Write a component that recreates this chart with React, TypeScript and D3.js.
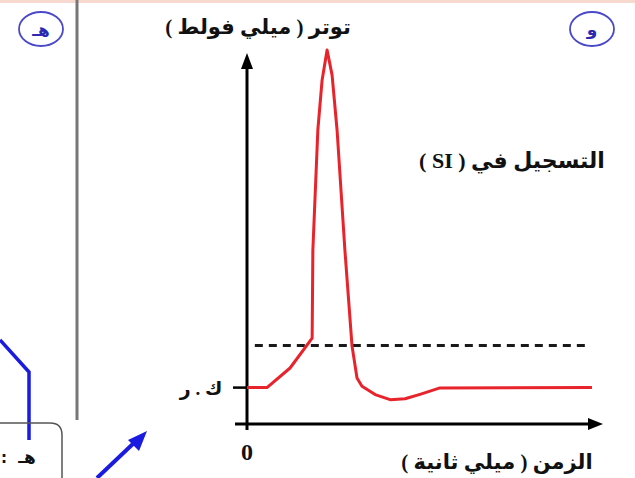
import React from "react";
import * as d3 from "d3";

// ---- data ----
const timeMs: number[] = [0, 0.56, 1.21, 1.83, 1.85, 1.99, 2.11, 2.25, 2.39, 2.53, 2.75, 2.95, 3.09, 3.23, 3.6, 4.02, 4.44, 4.86, 5.42, 9.69];
const voltageMv: number[] = [-70, -70, -63, -52.3, -20.9, 22, 39.9, 50.6, 41.6, 22, -20.9, -55.1, -66.6, -69.5, -72.5, -74.3, -74, -72.4, -70.1, -70];
const restValue = -70;
const thresholdValue = -55;
const thresholdSpan: number[] = [0.22, 9.58];
const xTickLabels: string[] = ["0"];
const yAxisTitle = "توتر ( ميلي فولط )";
const xAxisTitle = "الزمن ( ميلي ثانية )";
const restLabel = "ك . ر";
const recordLabel = "التسجيل في ( SI )";
const panelLabels: string[] = ["هـ", "و"];

const W = 635;
const H = 478;

export default function App() {
  const x = d3.scaleLinear().domain([0, 10]).range([247, 603]);
  const y = d3.scaleLinear().domain([-83, 52]).range([424, 46]);

  const line = d3
    .line<number>()
    .x((_, i) => x(timeMs[i]))
    .y((v) => y(v))
    .curve(d3.curveLinear);

  const arabicFont = "'Liberation Serif', 'DejaVu Sans', sans-serif";
  const ax0 = x(0);
  const ay0 = y(-83);

  return (
    <svg
      width={W}
      height={H}
      viewBox={`0 0 ${W} ${H}`}
      style={{ position: "absolute", left: 0, top: 0, background: "#fff" }}
    >
      <rect x={0} y={0} width={W} height={H} fill="#fff" />
      <rect x={0} y={0} width={W} height={3} fill="#f7d9cf" />

      {/* left panel remnants */}
      <line x1={77} y1={0} x2={77} y2={420} stroke="#777" strokeWidth={3} />
      <ellipse cx={41} cy={29} rx={22} ry={17} fill="none" stroke="#4a4ac8" strokeWidth={1.8} />
      <text x={41} y={36} textAnchor="middle" fontFamily="'DejaVu Sans', sans-serif" fontWeight="bold" fontSize={17} fill="#2a2ab0">
        {panelLabels[0]}
      </text>
      <polyline points="0,340 29,372 29,440" fill="none" stroke="#1a1ae0" strokeWidth={3.5} />
      <path d="M -10 478 L -10 435 Q -10 423 2 423 L 50 423 Q 62 423 62 435 L 62 490" fill="none" stroke="#555" strokeWidth={1.5} />
      <text x={27} y={463} textAnchor="middle" fontFamily="'DejaVu Sans', sans-serif" fontWeight="bold" fontSize={17} fill="#111">
        {panelLabels[0]}
      </text>
      <text x={4} y={463} textAnchor="middle" fontFamily="'DejaVu Sans', sans-serif" fontWeight="bold" fontSize={15} fill="#111">
        :
      </text>
      <line x1={97} y1={478} x2={136} y2={441} stroke="#1a1ae0" strokeWidth={4} />
      <polygon points="147,431 128,440 139,451" fill="#1a1ae0" />

      {/* right panel circle */}
      <ellipse cx={592} cy={29} rx={22} ry={17} fill="none" stroke="#4a4ac8" strokeWidth={1.8} />
      <text x={592} y={35} textAnchor="middle" fontFamily="'DejaVu Sans', sans-serif" fontWeight="bold" fontSize={17} fill="#2a2ab0">
        {panelLabels[1]}
      </text>

      {/* axes */}
      <line x1={ax0} y1={ay0 + 6} x2={ax0} y2={66} stroke="#000" strokeWidth={3} />
      <polygon points={`${ax0},53 ${ax0 - 6},69 ${ax0 + 6},69`} fill="#000" />
      <line x1={ax0 - 12} y1={ay0} x2={591} y2={ay0} stroke="#000" strokeWidth={3} />
      <polygon points={`603,${ay0} 588,${ay0 - 6} 588,${ay0 + 6}`} fill="#000" />

      {/* rest tick */}
      <line x1={ax0 - 14} y1={y(restValue)} x2={ax0} y2={y(restValue)} stroke="#000" strokeWidth={2.5} />

      {/* threshold */}
      <line
        x1={x(thresholdSpan[0])}
        y1={y(thresholdValue)}
        x2={x(thresholdSpan[1])}
        y2={y(thresholdValue)}
        stroke="#1a1a1a"
        strokeWidth={3}
        strokeDasharray="8,6"
      />

      {/* action potential */}
      <path d={line(voltageMv) || ""} fill="none" stroke="#e8232b" strokeWidth={3} strokeLinejoin="round" />

      {/* labels */}
      {xTickLabels.map((t) => (
        <text key={t} x={ax0} y={460} textAnchor="middle" fontFamily="'Liberation Serif', serif" fontWeight="bold" fontSize={24} fill="#111">
          {t}
        </text>
      ))}
      <text x={258} y={34} direction="rtl" textAnchor="middle" fontFamily={arabicFont} fontWeight="bold" fontSize={21} fill="#111">
        {yAxisTitle}
      </text>
      <text x={497} y={469} direction="rtl" textAnchor="middle" fontFamily={arabicFont} fontWeight="bold" fontSize={21} fill="#111">
        {xAxisTitle}
      </text>
      <text x={512} y={168} direction="rtl" textAnchor="middle" fontFamily={arabicFont} fontWeight="bold" fontSize={22} fill="#111">
        {recordLabel}
      </text>
      <text x={201} y={395} direction="rtl" textAnchor="middle" fontFamily={arabicFont} fontWeight="bold" fontSize={19} fill="#111">
        {restLabel}
      </text>
    </svg>
  );
}
